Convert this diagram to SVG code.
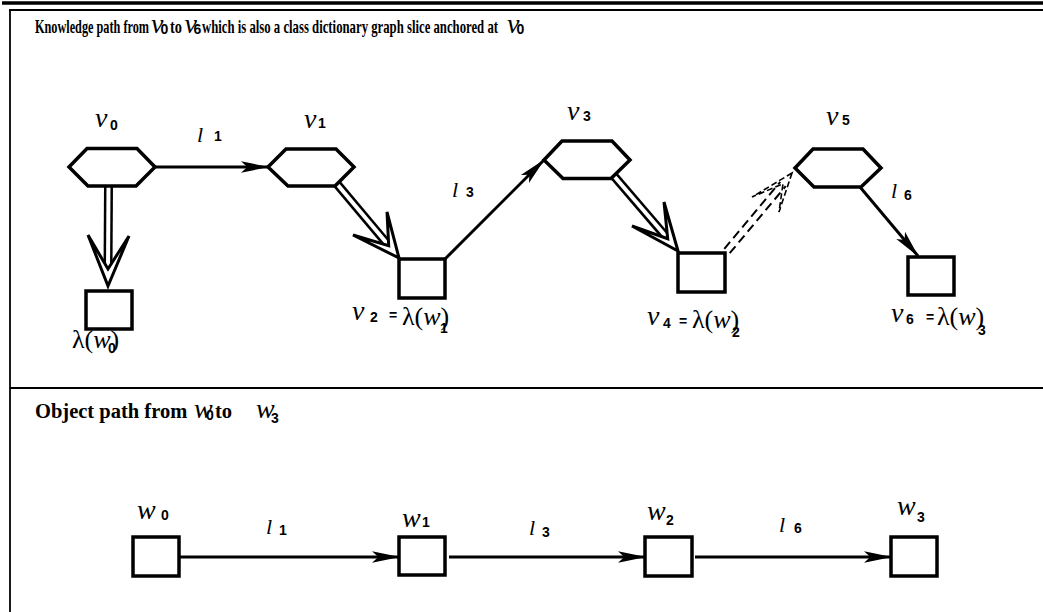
<svg xmlns="http://www.w3.org/2000/svg" width="1043" height="612" viewBox="0 0 1043 612">
<style>
.frame{stroke:#000;fill:none}
.hex{fill:#fff;stroke:#000;stroke-width:3.5;stroke-linejoin:miter}
.box{fill:#fff;stroke:#000;stroke-width:3.5}
.edge{stroke:#000;stroke-width:3;fill:none}
.dbl{stroke:#000;stroke-width:9;fill:none}
.dblw{stroke:#fff;stroke-width:4;fill:none}
.head{fill:#fff;stroke:#000;stroke-width:3;stroke-linejoin:miter}
.dash{stroke:#000;stroke-width:2;fill:none;stroke-dasharray:9 5}
.dhead{fill:none;stroke:#000;stroke-width:1.6;stroke-dasharray:6 3}
.it{font-family:"Liberation Serif","Times New Roman",serif;font-style:italic;font-size:28px}
.lam{font-family:"Liberation Serif","Times New Roman",serif;font-size:26px}
.el{font-family:"Liberation Serif","Times New Roman",serif;font-style:italic;font-size:22px}
.sub{font-family:"Liberation Sans",Arial,sans-serif;font-weight:bold;font-size:14px}
.ttl{font-family:"Liberation Serif","Times New Roman",serif;font-weight:bold}
</style>
<defs>
<marker id="ah" markerUnits="userSpaceOnUse" markerWidth="28" markerHeight="14" viewBox="0 0 27 12" refX="26" refY="6" orient="auto">
<path d="M0,0.5 L27,6 L0,11.5 L6,6 z" fill="#000"/>
</marker>
</defs>

<g id="frame">
<line class="frame" x1="2" y1="3" x2="1043" y2="3" stroke-width="3.5"/>
<line class="frame" x1="9" y1="10" x2="1043" y2="10" stroke-width="1.8"/>
<line class="frame" x1="10" y1="10" x2="10" y2="612" stroke-width="1.8"/>
<line class="frame" x1="10" y1="388" x2="1043" y2="388" stroke-width="2"/>
</g>

<g id="titles">
<text class="ttl" font-size="19" x="35" y="33" textLength="114" lengthAdjust="spacingAndGlyphs">Knowledge path from</text>
<text class="it" font-size="16" x="151" y="33">v</text>
<text class="sub" font-size="10" x="160.5" y="34">0</text>
<text class="ttl" font-size="19" x="170" y="33" textLength="12" lengthAdjust="spacingAndGlyphs">to</text>
<text class="it" font-size="16" x="184.5" y="33">v</text>
<text class="sub" font-size="10" x="193.5" y="34">6</text>
<text class="ttl" font-size="19" x="202" y="33" textLength="296" lengthAdjust="spacingAndGlyphs">which is also a class dictionary graph slice anchored at</text>
<text class="it" font-size="16" x="507" y="33">v</text>
<text class="sub" font-size="10" x="516.5" y="34">0</text>

<text class="ttl" font-size="20.5" x="35" y="418">Object path from</text>
<text class="it" font-size="16" x="194" y="418">w</text>
<text class="sub" font-size="11" x="206" y="420">0</text>
<text class="ttl" font-size="20.5" x="215" y="418">to</text>
<text class="it" font-size="17" x="256" y="418">w</text>
<text class="sub" font-size="11" x="271" y="423">3</text>
</g>

<g id="connectors">
<line class="edge" x1="155" y1="167" x2="268" y2="167" marker-end="url(#ah)"/>
<line class="edge" x1="445" y1="259" x2="544" y2="160" marker-end="url(#ah)"/>
<line class="edge" x1="860" y1="187" x2="918" y2="256" marker-end="url(#ah)"/>
<line class="edge" x1="179" y1="557" x2="399" y2="557" marker-end="url(#ah)"/>
<line class="edge" x1="449" y1="557" x2="645" y2="557" marker-end="url(#ah)"/>
<line class="edge" x1="695" y1="557" x2="891" y2="557" marker-end="url(#ah)"/>

<line class="dbl" x1="108.5" y1="186" x2="108" y2="270"/>
<line class="dblw" x1="108.5" y1="186" x2="108" y2="272"/>
<polygon class="head" points="108,286 129,236 108,269 88,235"/>

<line class="dbl" x1="337" y1="184" x2="388.7" y2="245.7"/>
<line class="dblw" x1="337" y1="184" x2="390" y2="247"/>
<polygon class="head" points="399,258 387,212 388.7,245.7 353,235"/>

<line class="dbl" x1="614" y1="176" x2="667.7" y2="238.7"/>
<line class="dblw" x1="614" y1="176" x2="669" y2="240"/>
<polygon class="head" points="678,251 664,202 667.7,238.7 632,226"/>

<line class="dash" x1="729.7" y1="253.2" x2="785.7" y2="186.2"/>
<line class="dash" x1="724.3" y1="248.8" x2="780.3" y2="181.8"/>
<polygon class="dhead" points="792,173 779,212 783,183.8 752,197"/>
</g>

<g id="v0"><polygon class="hex" points="69,167 87,148.5 137,148.5 155,167 136,186 88,186"/>
<text class="it" x="95" y="127">v</text><text class="sub" x="110" y="130">0</text></g>
<g id="v1"><polygon class="hex" points="268,167 286,149 336,149 354,167 335,186 288,186"/>
<text class="it" x="304" y="128">v</text><text class="sub" x="318" y="128">1</text></g>
<g id="v3"><polygon class="hex" points="544,160 562,141 612,141 630,160 611,178.5 563,178.5"/>
<text class="it" x="567" y="120">v</text><text class="sub" x="583" y="121">3</text></g>
<g id="v5"><polygon class="hex" points="795,168 813,149 863,149 881,168 861,187 814,187"/>
<text class="it" x="826" y="125">v</text><text class="sub" x="842" y="125">5</text></g>

<g id="lw0"><rect class="box" x="86" y="291" width="46" height="38"/>
<text class="lam" x="72" y="348">λ(<tspan font-style="italic">w</tspan>)</text><text class="sub" x="108" y="353">0</text></g>
<g id="v2"><rect class="box" x="399" y="259" width="46" height="39"/>
<text class="it" x="352" y="320">v</text><text class="sub" x="370" y="322">2</text><text class="sub" x="389" y="320">=</text>
<text class="lam" x="402" y="325">λ(<tspan font-style="italic">w</tspan>)</text><text class="sub" x="440" y="333">1</text></g>
<g id="v4"><rect class="box" x="678" y="253" width="47" height="39"/>
<text class="it" x="647" y="325">v</text><text class="sub" x="663" y="328">4</text><text class="sub" x="679" y="326">=</text>
<text class="lam" x="692" y="328">λ(<tspan font-style="italic">w</tspan>)</text><text class="sub" x="732" y="337">2</text></g>
<g id="v6"><rect class="box" x="908" y="257" width="46" height="38"/>
<text class="it" x="891" y="322">v</text><text class="sub" x="906" y="324">6</text><text class="sub" x="926" y="322">=</text>
<text class="lam" x="937" y="325">λ(<tspan font-style="italic">w</tspan>)</text><text class="sub" x="978" y="335">3</text></g>

<g id="edge-labels">
<text class="el" x="197" y="142">l</text><text class="sub" x="214" y="141">1</text>
<text class="el" x="452" y="197">l</text><text class="sub" x="466" y="197">3</text>
<text class="el" x="891" y="198">l</text><text class="sub" x="904" y="200">6</text>
<text class="el" x="266" y="534">l</text><text class="sub" x="279" y="535">1</text>
<text class="el" x="529" y="535">l</text><text class="sub" x="542" y="537">3</text>
<text class="el" x="779" y="532">l</text><text class="sub" x="794" y="533">6</text>
</g>

<g id="w0"><rect class="box" x="133" y="537" width="46" height="39"/>
<text class="it" x="137" y="519">w</text><text class="sub" x="161" y="520">0</text></g>
<g id="w1"><rect class="box" x="399" y="537" width="46" height="38"/>
<text class="it" x="402" y="527">w</text><text class="sub" x="422" y="527">1</text></g>
<g id="w2"><rect class="box" x="645" y="537" width="47" height="39"/>
<text class="it" x="647" y="520">w</text><text class="sub" x="666" y="525">2</text></g>
<g id="w3"><rect class="box" x="891" y="537" width="46" height="39"/>
<text class="it" x="897" y="515">w</text><text class="sub" x="917" y="522">3</text></g>
</svg>
